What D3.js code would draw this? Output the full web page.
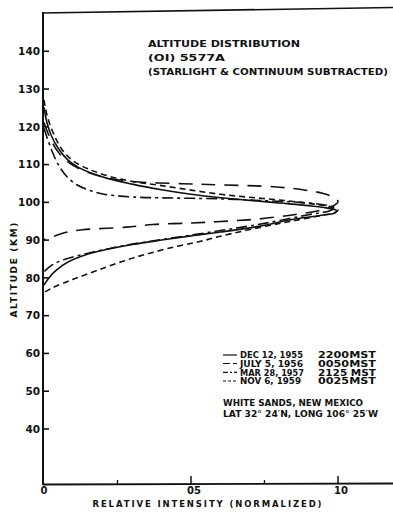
<!DOCTYPE html>
<html>
<head>
<meta charset="utf-8">
<script src="https://cdn.jsdelivr.net/npm/d3@7"></script>
<style>
  html, body { margin: 0; padding: 0; background: #fff; }
  svg { display: block; }
  text { font-family: "DejaVu Sans", "Liberation Sans", sans-serif; font-weight: bold; fill: #111; }
</style>
</head>
<body>
<svg id="chart" width="393" height="516"></svg>
<script>
// Green-line (OI 5577 A) airglow altitude profiles, White Sands.
// Each profile is traced from the upper branch, round the peak, down the lower branch.
// Points are [relative intensity, altitude km].
const dec1955 = [
  [0,125],[0.01,121],[0.025,117.5],[0.05,114],[0.08,111.2],[0.12,109],[0.2,106.6],
  [0.3,104.7],[0.4,103.2],[0.5,102],[0.6,101.1],[0.7,100.4],[0.8,99.7],[0.9,99],
  [0.96,98.4],[0.995,97.7],[0.99,97.1],[0.95,96.5],[0.85,95.4],[0.73,93.5],
  [0.6,92],[0.5,91],[0.4,89.9],[0.3,88.7],[0.22,87.5],[0.15,86.2],[0.08,84],
  [0.04,81.8],[0.02,80.2],[0,78]
];
const jul1956 = [
  [0,121],[0.02,117],[0.05,113],[0.1,109.6],[0.2,106.6],[0.3,105.4],[0.47,104.8],
  [0.6,104.5],[0.78,104],[0.88,103.2],[0.95,102.2],[0.99,101],[1.0,100],
  [0.98,98.8],[0.93,97.6],[0.85,96.6],[0.72,95.4],[0.6,94.8],[0.5,94.4],[0.37,94],
  [0.28,93.3],[0.13,92.6],[0.08,92],[0.03,90.8],[0,90]
];
const mar1957 = [
  [0,119.5],[0.015,116],[0.035,112],[0.055,109],[0.08,106.5],[0.11,104.6],[0.15,103.2],
  [0.2,102.1],[0.3,101.3],[0.45,101],[0.6,100.8],[0.75,100.3],[0.88,99.8],[0.96,99.1],
  [0.99,98.4],[0.97,97.6],[0.9,96.6],[0.75,94.3],[0.6,92.4],[0.45,90.6],[0.3,88.8],
  [0.22,87.6],[0.15,86.4],[0.08,85],[0.03,83.4],[0,81.5]
];
const nov1959 = [
  [0,127],[0.01,123],[0.03,118.5],[0.06,114],[0.1,110.8],[0.16,108.4],[0.22,106.8],
  [0.3,105.4],[0.4,104.3],[0.5,103.1],[0.6,102],[0.7,101.2],[0.8,100.5],[0.9,99.6],
  [0.97,98.8],[1.0,97.9],[0.99,97.2],[0.95,96.5],[0.85,95],[0.75,93.5],[0.6,90.9],
  [0.53,89.5],[0.45,88.2],[0.36,86.4],[0.28,84.6],[0.19,82.1],[0.12,80.1],[0.08,78.9],
  [0.03,77.3],[0,76]
];

const seriesNames = ["DEC 12, 1955", "JULY 5, 1956", "MAR 28, 1957", "NOV 6, 1959"];
const seriesTimes = ["2200MST", "0050MST", "2125 MST", "0025MST"];
const seriesData = [dec1955, jul1956, mar1957, nov1959];
const seriesDash = [null, "14,9", "11,4,3,4", "6,4"];
const legendDash = [null, "7,3", "5,2,2,2", "3,2"];

const yTicks = [40, 50, 60, 70, 80, 90, 100, 110, 120, 130, 140];
const xMajorTicks = [0.5, 1.0];
const xMinorTicks = [0.25, 0.75];
const xTickLabels = ["0", "05", "10"];
const xTickLabelValues = [0, 0.5, 1.0];

const titleLines = ["ALTITUDE  DISTRIBUTION", "(OI) 5577A", "(STARLIGHT & CONTINUUM SUBTRACTED)"];
const siteLines = ["WHITE SANDS,  NEW MEXICO", "LAT 32\u00b0 24\u2032N, LONG 106\u00b0 25\u2032W"];

const svg = d3.select("#chart");
const W = 393;

const x = d3.scaleLinear().domain([0, 1]).range([44, 338]);
const y = d3.scaleLinear().domain([25.3, 150]).range([484, 13]);

const ink = "#111";

// frame: left axis, bottom axis and top rule
svg.append("line").attr("x1", 43).attr("x2", 43).attr("y1", 12).attr("y2", 485)
  .attr("stroke", ink).attr("stroke-width", 2);
svg.append("line").attr("x1", 43).attr("x2", W).attr("y1", 484.5).attr("y2", 483.5)
  .attr("stroke", ink).attr("stroke-width", 1.8);
svg.append("line").attr("x1", 42).attr("x2", W).attr("y1", 13).attr("y2", 7.5)
  .attr("stroke", ink).attr("stroke-width", 1.6);

// left axis ticks (inward) and labels
const yAxis = d3.axisRight(y).tickValues(yTicks).tickSize(6).tickFormat(d => d);
const gy = svg.append("g").attr("transform", "translate(43,0)").call(yAxis);
gy.select(".domain").remove();
gy.selectAll(".tick line").attr("stroke", ink).attr("stroke-width", 1.6);
gy.selectAll(".tick text")
  .attr("x", -3).attr("dy", "0.36em").attr("text-anchor", "end")
  .attr("font-size", 10.5).attr("fill", ink)
  .style("font-family", "'DejaVu Sans', sans-serif").style("font-weight", "bold");

// bottom axis: major and minor ticks pointing up
const gx = svg.append("g");
gx.selectAll("line.major").data(xMajorTicks).join("line").attr("class", "major")
  .attr("x1", d => x(d)).attr("x2", d => x(d))
  .attr("y1", 484).attr("y2", 476).attr("stroke", ink).attr("stroke-width", 1.5);
gx.selectAll("line.minor").data(xMinorTicks).join("line").attr("class", "minor")
  .attr("x1", d => x(d)).attr("x2", d => x(d))
  .attr("y1", 484).attr("y2", 480).attr("stroke", ink).attr("stroke-width", 1.3);
gx.selectAll("text").data(xTickLabelValues).join("text")
  .attr("x", (d, i) => x(d) + (i === 0 ? 0 : 3)).attr("y", 494)
  .attr("text-anchor", "middle").attr("font-size", 10)
  .text((d, i) => xTickLabels[i]);

// axis titles
svg.append("text").attr("x", 207).attr("y", 507).attr("text-anchor", "middle")
  .attr("font-size", 8.5).attr("textLength", 229).attr("lengthAdjust", "spacing")
  .text("RELATIVE INTENSITY (NORMALIZED)");
svg.append("text").attr("transform", "translate(17,270) rotate(-90)")
  .attr("text-anchor", "middle").attr("font-size", 9)
  .attr("textLength", 95).attr("lengthAdjust", "spacing")
  .text("ALTITUDE (KM)");

// profiles
const line = d3.line()
  .x(d => x(d[0])).y(d => y(d[1]))
  .curve(d3.curveCatmullRom.alpha(0.5));

svg.append("g").selectAll("path").data(seriesData).join("path")
  .attr("d", d => line(d))
  .attr("fill", "none").attr("stroke", ink).attr("stroke-width", 1.6)
  .attr("stroke-linecap", "butt")
  .attr("stroke-dasharray", (d, i) => seriesDash[i]);

// title block
const titleWidths = [152, 77, 240];
svg.append("g").selectAll("text").data(titleLines).join("text")
  .attr("x", 148).attr("y", (d, i) => [46.5, 61, 75][i])
  .attr("font-size", 8.8)
  .attr("textLength", (d, i) => titleWidths[i]).attr("lengthAdjust", "spacingAndGlyphs")
  .text(d => d);

// legend
const legY = [355, 363.5, 372.3, 381];
const leg = svg.append("g");
leg.selectAll("line").data(seriesNames).join("line")
  .attr("x1", 223).attr("x2", 237)
  .attr("y1", (d, i) => legY[i]).attr("y2", (d, i) => legY[i])
  .attr("stroke", ink).attr("stroke-width", 1.2)
  .attr("stroke-dasharray", (d, i) => legendDash[i]);
leg.selectAll("text.name").data(seriesNames).join("text").attr("class", "name")
  .attr("x", 240).attr("y", (d, i) => legY[i] + 3.3)
  .attr("font-size", 8.3).attr("textLength", (d, i) => [63, 63, 64, 61][i])
  .attr("lengthAdjust", "spacingAndGlyphs")
  .text(d => d);
leg.selectAll("text.time").data(seriesTimes).join("text").attr("class", "time")
  .attr("x", 318).attr("y", (d, i) => legY[i] + 3.3)
  .attr("font-size", 8.3).attr("textLength", 58)
  .attr("lengthAdjust", "spacingAndGlyphs")
  .text(d => d);
leg.selectAll("text.site").data(siteLines).join("text").attr("class", "site")
  .attr("x", 223).attr("y", (d, i) => [406.3, 417][i])
  .attr("font-size", 8.3).attr("textLength", (d, i) => [140, 155][i])
  .attr("lengthAdjust", "spacingAndGlyphs")
  .text(d => d);
</script>
</body>
</html>
